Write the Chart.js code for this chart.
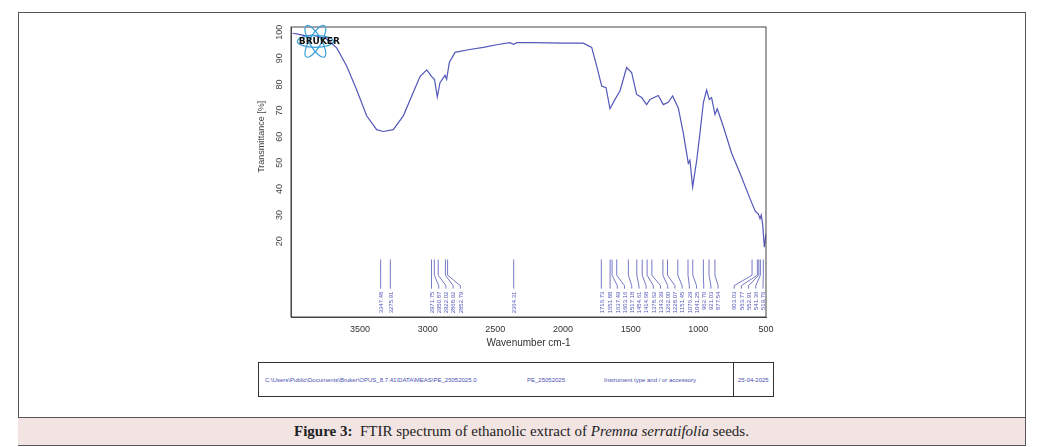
<!DOCTYPE html>
<html>
<head>
<meta charset="utf-8">
<script src="https://cdn.jsdelivr.net/npm/chart.js@4/dist/chart.umd.min.js"></script>
<style>
  body { margin: 0; background: #fff; font-family: "Liberation Sans", Arial, sans-serif; }
  #frame { position: absolute; left: 18px; top: 12px; width: 1006px; height: 432px; border: 1px solid #555; }
  #plot { position: absolute; left: 250px; top: 18px; width: 530px; height: 331px; }
  #info { position: absolute; left: 258px; top: 362px; width: 514px; height: 33px; border: 1px solid #333; font-size: 6px; color: #4a4fb0; }
  #info span { position: absolute; top: 14px; white-space: nowrap; }
  #info .sep { position: absolute; left: 474px; top: 0; width: 1px; height: 33px; background: #333; }
  #caption { position: absolute; left: 18px; top: 417px; width: 1007px; height: 27px; background: #f3e4e4; border-top: 1px solid #555; border-bottom: 1px solid #555;
    font-family: "Liberation Serif", "Times New Roman", serif; font-size: 15px; text-align: center; line-height: 27px; color: #222; }
</style>
</head>
<body>
<div id="frame"></div>
<div id="plot"><canvas id="ftirChart"></canvas></div>
<div id="info">
  <span style="left:6px">C:\Users\Public\Documents\Bruker\OPUS_8.7.41\DATA\MEAS\PE_25052025.0</span>
  <span style="left:268px">PE_25052025</span>
  <span style="left:345px">Instrument type and / or accessory</span>
  <div class="sep"></div>
  <span style="left:479px">25-04-2025</span>
</div>
<div id="caption"><b>Figure 3:</b>&nbsp; FTIR spectrum of ethanolic extract of <i>Premna serratifolia</i> seeds.</div>
<script>
const spectrum = [
    [3998, 99.6], [3950, 99.2], [3900, 98.6], [3850, 98.9], [3800, 98.2], [3750, 97.5], [3672, 94], [3598, 87],
    [3525, 78], [3451, 68], [3377, 62.7], [3328, 62], [3254, 62.7], [3180, 68], [3106, 77], [3057, 83],
    [3007, 85.6], [2970, 83], [2950, 82], [2929, 75.3], [2909, 80.7], [2872, 83.5], [2860, 82], [2840, 88.4],
    [2798, 92.3], [2700, 93.3], [2589, 94.2], [2480, 95.3], [2392, 96], [2367, 95.4], [2340, 96], [2219, 96],
    [2000, 95.8], [1850, 95.8], [1788, 94.2], [1751, 87], [1714, 79.4], [1682, 78.8], [1653, 70.7], [1616, 74.3],
    [1579, 77.5], [1530, 86.5], [1493, 84.6], [1456, 76.2], [1419, 75], [1382, 72.3], [1357, 74.3], [1296, 75.8],
    [1259, 72.3], [1222, 73.2], [1190, 75.6], [1148, 71], [1111, 61.4], [1074, 49.8], [1062, 51], [1042, 40.8],
    [1012, 51], [988, 61.4], [963, 73], [939, 77.9], [919, 74.3], [902, 75], [877, 68.5], [860, 70.7],
    [816, 64], [754, 53.7], [692, 46], [618, 36.3], [582, 31.8], [570, 31], [557, 30.5], [544, 28.6],
    [535, 30], [525, 26.7], [512, 17.7], [500, 23]
];
const peaks = [3347.48, 3275.91, 2971.75, 2950.87, 2922.02, 2868.92, 2852.79, 2364.31, 1716.73, 1651.88,
    1637.49, 1603.16, 1517.18, 1454.61, 1414.68, 1378.62, 1343.39, 1262.00, 1228.07, 1151.45, 1076.29,
    1041.25, 962.70, 921.03, 877.54, 603.03, 563.77, 552.91, 541.36, 519.76];
const ink = '#5257b8';

const peakLabels = {
    id: 'peakLabels',
    afterDatasetsDraw(chart) {
        const { ctx, scales: { x, y }, chartArea } = chart;
        const gap = 7.2;
        const pts = peaks.map(p => ({ p, px: x.getPixelForValue(p) })).sort((a, b) => a.px - b.px);
        const pos = pts.map(o => o.px);
        for (let i = 1; i < pos.length; i++) pos[i] = Math.max(pos[i], pos[i - 1] + gap);
        const right = chartArea.right - 3;
        if (pos[pos.length - 1] > right) {
            pos[pos.length - 1] = right;
            for (let i = pos.length - 2; i >= 0; i--) pos[i] = Math.min(pos[i], pos[i + 1] - gap);
        }
        const y0 = y.getPixelForValue(13), y1 = y.getPixelForValue(7), y2 = y.getPixelForValue(3);
        ctx.save();
        ctx.strokeStyle = '#444';
        ctx.lineWidth = 1;
        ctx.strokeRect(chartArea.left, chartArea.top, chartArea.right - chartArea.left, chartArea.bottom - chartArea.top);
        ctx.strokeStyle = ink;
        ctx.fillStyle = ink;
        ctx.lineWidth = 0.8;
        ctx.font = '6px "Liberation Sans", Arial';
        pts.forEach((o, i) => {
            ctx.beginPath();
            ctx.moveTo(o.px, y0);
            ctx.lineTo(o.px, y1);
            ctx.lineTo(pos[i], y2);
            ctx.lineTo(pos[i], y2 + 3);
            ctx.stroke();
            ctx.save();
            ctx.translate(pos[i] + 2.2, y2 + 6);
            ctx.rotate(-Math.PI / 2);
            ctx.textAlign = 'right';
            ctx.fillText(o.p.toFixed(2), 0, 0);
            ctx.restore();
        });
        ctx.fillStyle = '#444';
        ctx.font = '9px "Liberation Sans", Arial';
        for (let v = 20; v <= 100; v += 10) {
            ctx.save();
            ctx.translate(chartArea.left - 12, y.getPixelForValue(v));
            ctx.rotate(-Math.PI / 2);
            ctx.textAlign = 'center';
            ctx.fillText(String(v), 0, 3);
            ctx.restore();
        }
        ctx.save();
        ctx.translate(chartArea.left - 30, y.getPixelForValue(60));
        ctx.rotate(-Math.PI / 2);
        ctx.textAlign = 'center';
        ctx.fillText('Transmittance [%]', 0, 3);
        ctx.restore();
        // Bruker mark
        const bx = x.getPixelForValue(3830), by = y.getPixelForValue(96.5);
        ctx.strokeStyle = '#3aa0dc';
        ctx.lineWidth = 1.2;
        [0, Math.PI / 3, -Math.PI / 3].forEach(a => {
            ctx.beginPath();
            ctx.ellipse(bx, by, 18, 6, a, 0, Math.PI * 2);
            ctx.stroke();
        });
        ctx.fillStyle = '#111';
        ctx.font = 'bold 9px "DejaVu Sans", Arial';
        ctx.textAlign = 'center';
        ctx.fillText('BRUKER', bx + 4, by + 3);
        ctx.restore();
    }
};

new Chart(document.getElementById('ftirChart'), {
    type: 'line',
    data: {
        datasets: [{
            data: spectrum.map(([wn, t]) => ({ x: wn, y: t })),
            borderColor: ink,
            borderWidth: 1.2,
            pointRadius: 0,
            tension: 0
        }]
    },
    options: {
        responsive: true,
        maintainAspectRatio: false,
        animation: false,
        layout: { padding: { top: 9, right: 14 } },
        plugins: { legend: { display: false }, tooltip: { enabled: false } },
        scales: {
            x: {
                type: 'linear',
                reverse: true,
                min: 500,
                max: 4010,
                afterBuildTicks: axis => {
                    axis.ticks = [3500, 3000, 2500, 2000, 1500, 1000, 500].map(v => ({ value: v }));
                },
                afterFit: axis => { axis.height = 32; },
                grid: { display: false, drawTicks: true, tickLength: 4, tickColor: '#444' },
                border: { color: '#444' },
                ticks: { color: '#333', font: { size: 9, family: '"Liberation Sans", Arial' }, maxRotation: 0, padding: 3, callback: v => String(v) },
                title: { display: true, text: 'Wavenumber cm-1', color: '#333', font: { size: 10, family: '"Liberation Sans", Arial' }, padding: 0 }
            },
            y: {
                min: -9,
                max: 102,
                afterBuildTicks: axis => {
                    axis.ticks = [20, 30, 40, 50, 60, 70, 80, 90, 100].map(v => ({ value: v }));
                },
                afterFit: axis => { axis.width = 41; },
                grid: { display: false, tickLength: 4, tickColor: '#444' },
                border: { color: '#444' },
                ticks: { display: false }
            }
        }
    },
    plugins: [peakLabels]
});
</script>
</body>
</html>
